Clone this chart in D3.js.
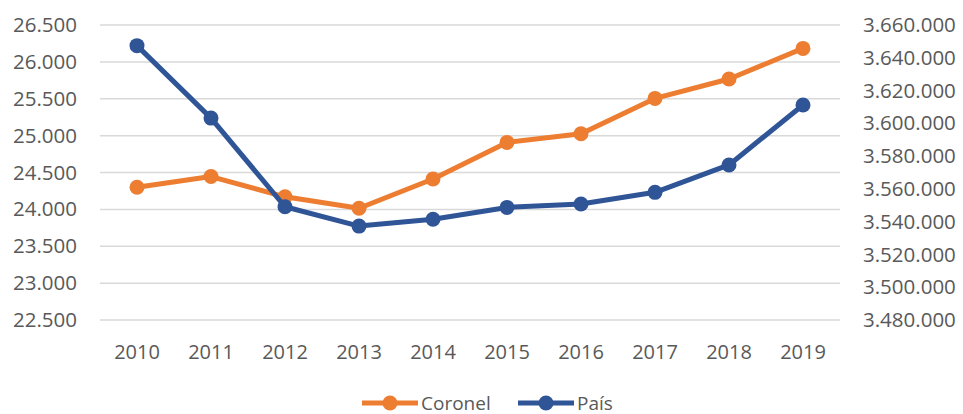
<!DOCTYPE html>
<html>
<head>
<meta charset="utf-8">
<script src="https://cdn.jsdelivr.net/npm/d3@7"></script>
<style>
  body { margin: 0; background: #fff; }
  svg { display: block; }
</style>
</head>
<body>
<svg id="chart" width="963" height="414"></svg>
<script>
const years = ['2010', '2011', '2012', '2013', '2014', '2015', '2016', '2017', '2018', '2019']
const coronel = [24300, 24445, 24170, 24015, 24412, 24908, 25025, 25505, 25768, 26183]
const pais = [3647400, 3603200, 3549100, 3537300, 3541500, 3548700, 3550800, 3557900, 3574600, 3611200]
const leftTicks = [22500, 23000, 23500, 24000, 24500, 25000, 25500, 26000, 26500]
const rightTicks = [3480000, 3500000, 3520000, 3540000, 3560000, 3580000, 3600000, 3620000, 3640000, 3660000]

const width = 963
const height = 414
const margin = { top: 25, left: 100, bottom: 94, right: 123 }
const chartWidth = width - (margin.left + margin.right)
const chartHeight = height - (margin.top + margin.bottom)

const orange = '#ED7D31'
const blue = '#2F5597'
const textColor = '#595959'

// spanish style thousands separator
const fmt = d3.formatLocale({ decimal: ',', thousands: '.', grouping: [3], currency: ['', ''] }).format(',.0f')

const svg = d3.select('#chart')
const g = svg.append('g').attr('transform', `translate(${margin.left},${margin.top})`)

const x = d3.scaleBand().domain(years).range([0, chartWidth]).padding(0)
const yLeft = d3.scaleLinear().domain([22500, 26500]).range([chartHeight, 0])
const yRight = d3.scaleLinear().domain([3480000, 3660000]).range([chartHeight, 0])

// gridlines
g.append('g')
  .selectAll('line')
  .data(leftTicks)
  .join('line')
  .attr('x1', 0)
  .attr('x2', chartWidth)
  .attr('y1', d => yLeft(d))
  .attr('y2', d => yLeft(d))
  .attr('stroke', '#D9D9D9')
  .attr('stroke-width', 1.5)

const leftAxis = g.append('g')
  .attr('transform', 'translate(-23,0)')
  .call(d3.axisLeft(yLeft).tickValues(leftTicks).tickFormat(fmt).tickSize(0).tickPadding(0))
leftAxis.select('.domain').remove()
leftAxis.selectAll('text')
  .attr('fill', textColor)
  .style('font-family', '"Open Sans", sans-serif')
  .style('font-size', '20.5px')

const rightAxis = g.append('g')
  .attr('transform', `translate(${chartWidth + 23},0)`)
  .call(d3.axisRight(yRight).tickValues(rightTicks).tickFormat(fmt).tickSize(0).tickPadding(0))
rightAxis.select('.domain').remove()
rightAxis.selectAll('text')
  .attr('fill', textColor)
  .style('font-family', '"Open Sans", sans-serif')
  .style('font-size', '20.5px')

const bottomAxis = g.append('g')
  .attr('transform', `translate(0,${chartHeight})`)
  .call(d3.axisBottom(x).tickSize(0).tickPadding(0))
bottomAxis.select('.domain').remove()
bottomAxis.selectAll('text')
  .attr('y', 39)
  .attr('dy', 0)
  .attr('fill', textColor)
  .style('font-family', '"Open Sans", sans-serif')
  .style('font-size', '20px')

const cx = d => x(d) + x.bandwidth() / 2

function drawSeries (values, scale, color) {
  const pts = values.map((v, i) => [cx(years[i]), scale(v)])
  g.append('path')
    .datum(pts)
    .attr('fill', 'none')
    .attr('stroke', color)
    .attr('stroke-width', 5)
    .attr('stroke-linejoin', 'round')
    .attr('d', d3.line())
  g.append('g')
    .selectAll('circle')
    .data(pts)
    .join('circle')
    .attr('cx', d => d[0])
    .attr('cy', d => d[1])
    .attr('r', 7.5)
    .attr('fill', color)
}

drawSeries(coronel, yLeft, orange)
drawSeries(pais, yRight, blue)

// legend
const legendItems = [
  { label: 'Coronel', color: orange, x: 362 },
  { label: 'País', color: blue, x: 518 }
]
const legend = svg.append('g').attr('transform', 'translate(0,403)')
const item = legend.selectAll('g')
  .data(legendItems)
  .join('g')
  .attr('transform', d => `translate(${d.x},0)`)
item.append('line')
  .attr('x1', 0).attr('x2', 56)
  .attr('stroke', d => d.color)
  .attr('stroke-width', 5)
item.append('circle')
  .attr('cx', 28).attr('r', 7.5)
  .attr('fill', d => d.color)
item.append('text')
  .attr('x', 59)
  .attr('y', 6.5)
  .attr('fill', textColor)
  .style('font-family', '"Open Sans", sans-serif')
  .style('font-size', '19px')
  .text(d => d.label)
</script>
</body>
</html>
